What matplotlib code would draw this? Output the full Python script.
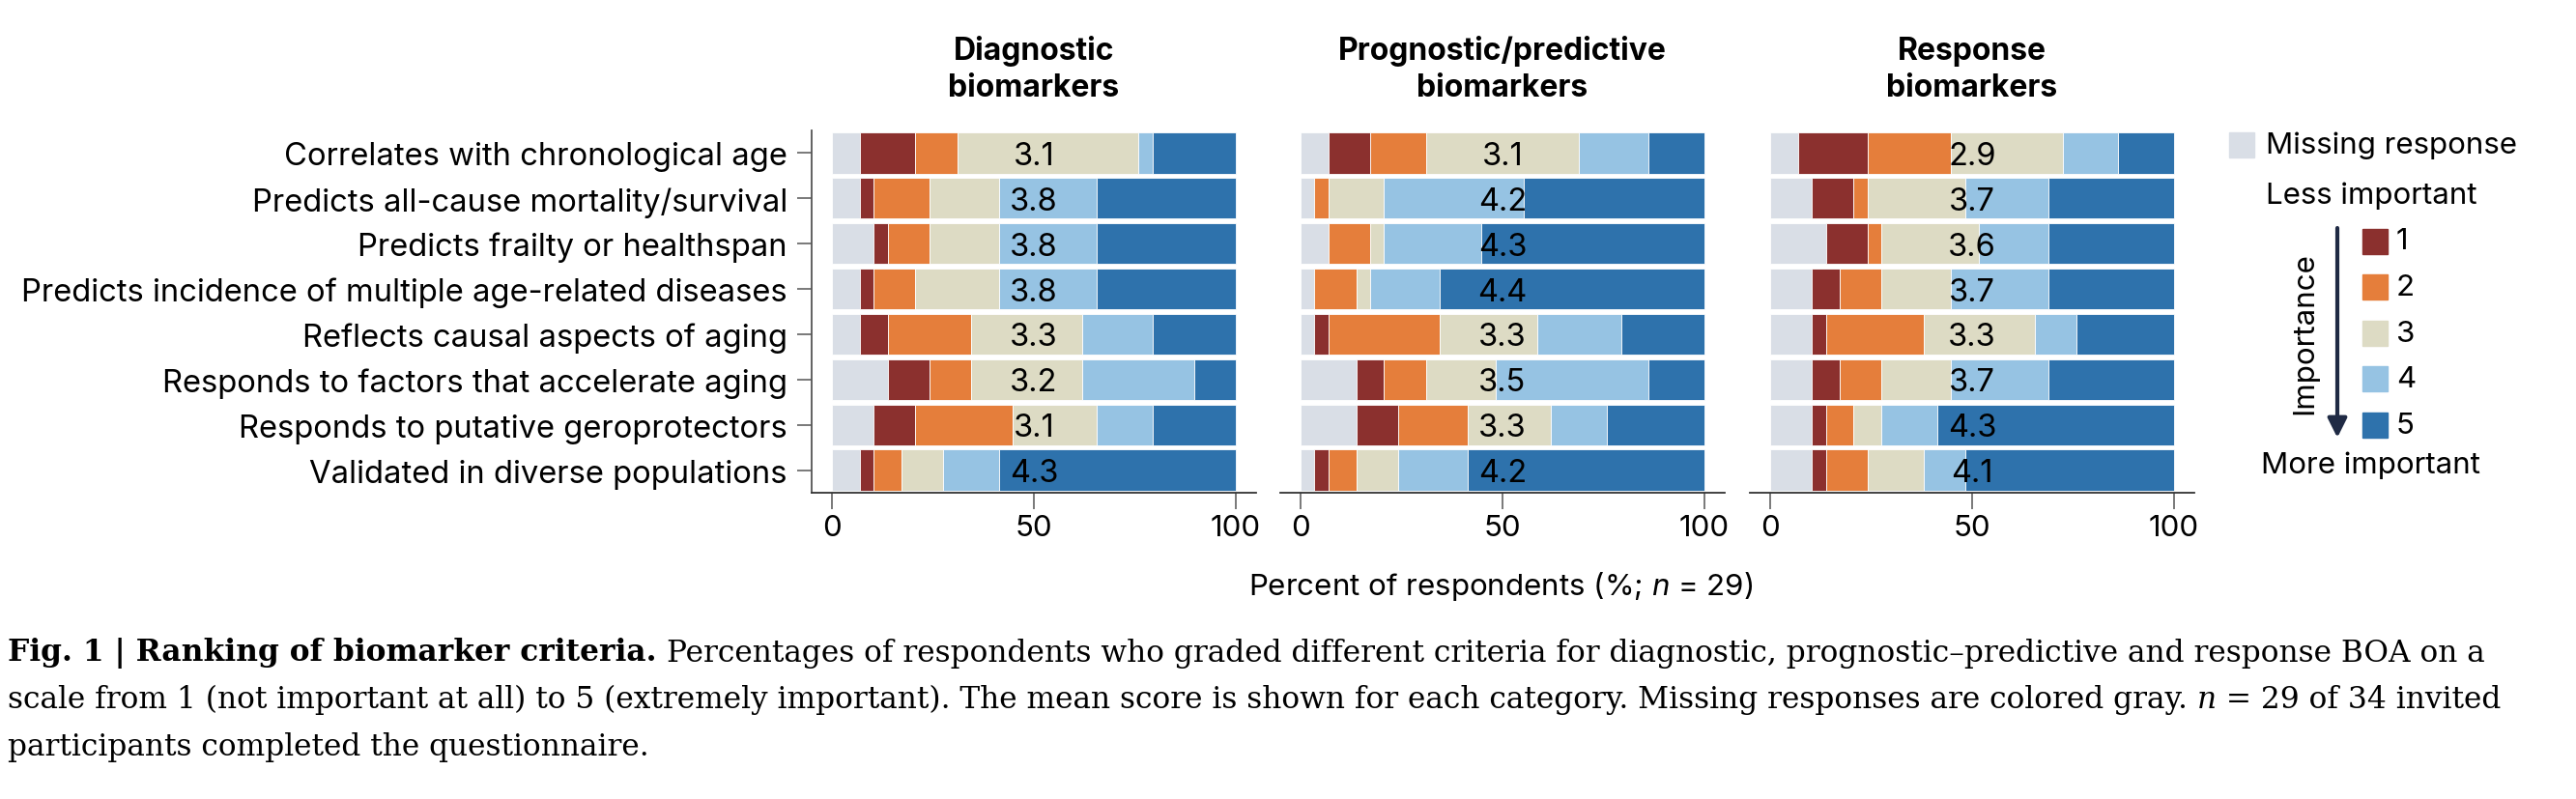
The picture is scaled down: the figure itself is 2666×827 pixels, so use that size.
import numpy as np
import matplotlib.pyplot as plt
from matplotlib.patches import Rectangle

plt.rcParams['font.family'] = ['Inter', 'DejaVu Sans']
plt.rcParams['mathtext.fontset'] = 'custom'
plt.rcParams['mathtext.rm'] = 'Inter'
plt.rcParams['mathtext.it'] = 'Inter:italic'

# ---- data (counts of respondents, n = 29) ----
n_resp = 29
criteria = ['Correlates with chronological age',
            'Predicts all-cause mortality/survival',
            'Predicts frailty or healthspan',
            'Predicts incidence of multiple age-related diseases',
            'Reflects causal aspects of aging',
            'Responds to factors that accelerate aging',
            'Responds to putative geroprotectors',
            'Validated in diverse populations']
levels = ['Missing response', '1', '2', '3', '4', '5']
panel_titles = ['Diagnostic\nbiomarkers', 'Prognostic/predictive\nbiomarkers', 'Response\nbiomarkers']

# columns: missing, 1, 2, 3, 4, 5
diag_counts = [[2, 4, 3, 13, 1, 6],
               [2, 1, 4, 5, 7, 10],
               [3, 1, 3, 5, 7, 10],
               [2, 1, 3, 6, 7, 10],
               [2, 2, 6, 8, 5, 6],
               [4, 3, 3, 8, 8, 3],
               [3, 3, 7, 6, 4, 6],
               [2, 1, 2, 3, 4, 17]]
prog_counts = [[2, 3, 4, 11, 5, 4],
               [1, 0, 1, 4, 10, 13],
               [2, 0, 3, 1, 7, 16],
               [1, 0, 3, 1, 5, 19],
               [1, 1, 8, 7, 6, 6],
               [4, 2, 3, 5, 11, 4],
               [4, 3, 5, 6, 4, 7],
               [1, 1, 2, 3, 5, 17]]
resp_counts = [[2, 5, 6, 8, 4, 4],
               [3, 3, 1, 7, 6, 9],
               [4, 3, 1, 7, 5, 9],
               [3, 2, 3, 5, 7, 9],
               [3, 1, 7, 8, 3, 7],
               [3, 2, 3, 5, 7, 9],
               [3, 1, 2, 2, 4, 17],
               [3, 1, 3, 4, 3, 15]]
diag_means = [3.1, 3.8, 3.8, 3.8, 3.3, 3.2, 3.1, 4.3]
prog_means = [3.1, 4.2, 4.3, 4.4, 3.3, 3.5, 3.3, 4.2]
resp_means = [2.9, 3.7, 3.6, 3.7, 3.3, 3.7, 4.3, 4.1]

colors = ['#d9dee6', '#8b302e', '#e57e3b', '#dddbc4', '#96c3e3', '#2e72ac']

W, H = 2666, 828
fig = plt.figure(figsize=(W / 100, H / 100), dpi=100)

fs = 22.5
panel_x = [840, 1325, 1811]
panel_w = 460
top, bot = 136, 511

all_counts = [diag_counts, prog_counts, resp_counts]
all_means = [diag_means, prog_means, resp_means]
y = np.arange(len(criteria))

for k in range(3):
    ax = fig.add_axes([panel_x[k] / W, 1 - bot / H, panel_w / W, (bot - top) / H])
    pct = np.array(all_counts[k]) / n_resp * 100
    left = np.zeros(len(criteria))
    for j in range(len(levels)):
        ax.barh(y, pct[:, j], left=left, height=0.9, color=colors[j],
                edgecolor='white', linewidth=0.6)
        left += pct[:, j]
    for i, m in enumerate(all_means[k]):
        ax.text(50, i + 0.245, f'{m:.1f}', ha='center', va='baseline', fontsize=fs + 1)
    ax.set_xlim(-5, 105)
    ax.set_ylim(7.5, -0.5)
    ax.set_xticks([0, 50, 100])
    ax.tick_params(axis='x', length=12, width=1.1, color='#555555', pad=4, labelsize=fs)
    for s in ['top', 'right']:
        ax.spines[s].set_visible(False)
    ax.spines['bottom'].set_linewidth(1.3)
    ax.spines['bottom'].set_color('#333333')
    if k == 0:
        ax.set_yticks(y)
        ax.set_yticklabels(criteria)
        ax.tick_params(axis='y', length=11, width=1.1, color='#555555', pad=7, labelsize=23.6)
        ax.spines['left'].set_linewidth(1.3)
        ax.spines['left'].set_color('#555555')
    else:
        ax.set_yticks([])
        ax.spines['left'].set_visible(False)
    ax.set_title(panel_titles[k], fontsize=fs + 0.5, fontweight='bold', pad=26, linespacing=1.3)

# overlay in pixel coordinates for legend, axis label and caption
ov = fig.add_axes([0, 0, 1, 1])
ov.set_xlim(0, W)
ov.set_ylim(H, 0)
ov.axis('off')

ov.text(1553, 607, r'Percent of respondents (%; $\mathit{n}$ = 29)', ha='center', va='center', fontsize=fs)

# legend
lx, ly = 2280, 110
ov.add_patch(Rectangle((lx + 27, ly + 28), 26, 26, color=colors[0]))
ov.text(lx + 65, ly + 41, levels[0], va='center', fontsize=fs)
ov.text(lx + 65, ly + 93, 'Less important', va='center', fontsize=fs)
for j in range(1, 6):
    cy = ly + 140.5 + (j - 1) * 47.6
    ov.add_patch(Rectangle((lx + 165, cy - 13), 26, 26, color=colors[j]))
    ov.text(lx + 200, cy, levels[j], va='center', fontsize=fs)
ov.annotate('', xy=(lx + 139, ly + 344), xytext=(lx + 139, ly + 127),
            arrowprops=dict(arrowstyle='-|>', lw=3, color='#1f2a44', mutation_scale=30,
                            shrinkA=0, shrinkB=0))
ov.text(lx + 105, ly + 235, 'Importance', rotation=90, ha='center', va='center', fontsize=fs)
ov.text(lx + 60, ly + 372, 'More important', va='center', fontsize=fs)

# caption
cap_fs = 22.5
cap_font = 'DejaVu Serif'


def caption_line(x0, yb, pieces):
    prev = ov.text(x0, yb, pieces[0][0], va='baseline', fontsize=cap_fs, family=cap_font,
                   fontweight=pieces[0][1], fontstyle=pieces[0][2])
    for txt, wt, st in pieces[1:]:
        prev = ov.annotate(txt, xy=(1, 0), xycoords=prev, va='bottom', ha='left',
                           fontsize=cap_fs, family=cap_font, fontweight=wt, fontstyle=st)


caption_line(8, 684, [('Fig. 1 | Ranking of biomarker criteria. ', 'bold', 'normal'),
                      ('Percentages of respondents who graded different criteria for diagnostic, '
                       'prognostic\u2013predictive and response BOA on a', 'normal', 'normal')])
caption_line(8, 733, [('scale from 1 (not important at all) to 5 (extremely important). The mean score '
                       'is shown for each category. Missing responses are colored gray. ', 'normal', 'normal'),
                      ('n', 'normal', 'italic'),
                      (' = 29 of 34 invited', 'normal', 'normal')])
caption_line(8, 782, [('participants completed the questionnaire.', 'normal', 'normal')])

fig.savefig('out.png', dpi=100)
